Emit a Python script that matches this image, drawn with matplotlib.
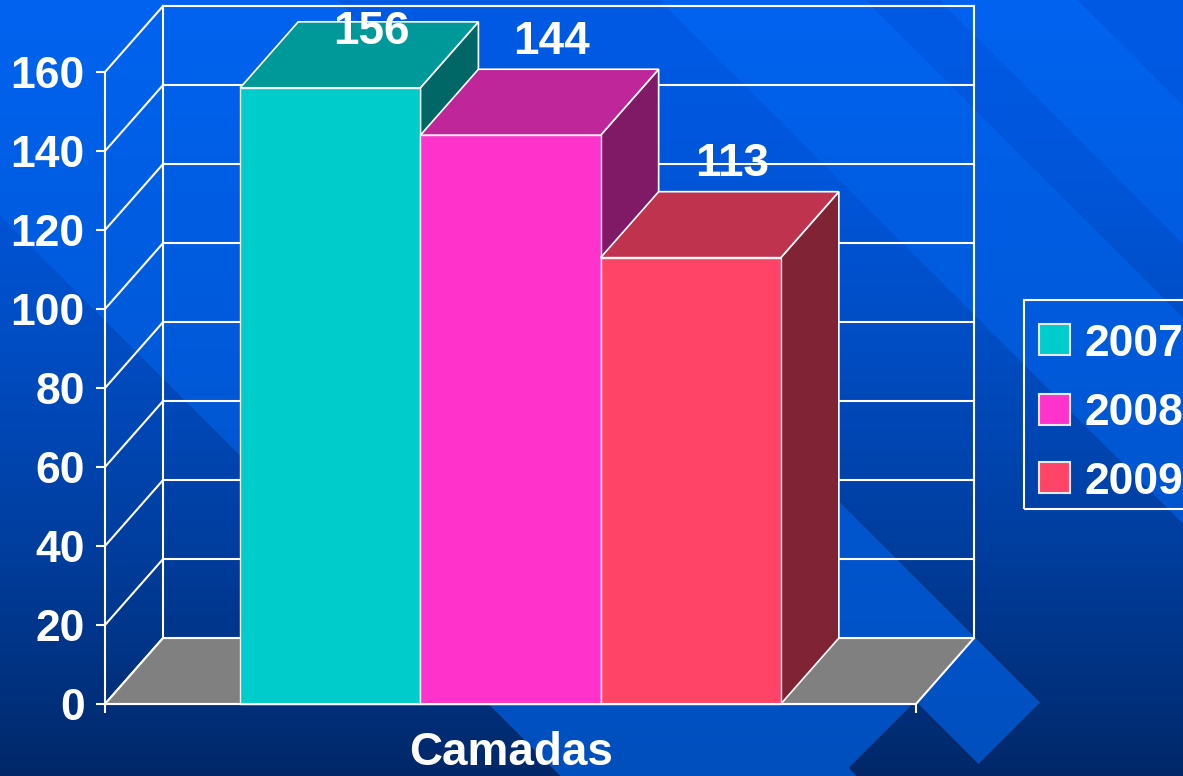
import numpy as np
import matplotlib
matplotlib.use("Agg")
import matplotlib.pyplot as plt
from matplotlib.patches import Polygon, Rectangle

plt.rcParams['font.family'] = ['Liberation Sans', 'DejaVu Sans']
plt.rcParams['font.weight'] = 'bold'

# ---- data ----
series = ['2007', '2008', '2009']
values = [156, 144, 113]
category = 'Camadas'
yticks = [0, 20, 40, 60, 80, 100, 120, 140, 160]
front_colors = ['#00CCCC', '#FF33CC', '#FF4468']
top_colors = ['#009999', '#BF2699', '#BF334E']
side_colors = ['#006666', '#801A66', '#802334']

W, H = 1183, 776
fig = plt.figure(figsize=(W / 100, H / 100), dpi=100)

# ---- background: vertical gradient with diagonal bands ----
yy, xx = np.mgrid[0:H, 0:W].astype(float)
u = xx + yy
v = xx - yy
dark = ((v < -215) | ((v >= 338) & (v < 660)) | ((v >= 866) & (v < 940)) | (v >= 1078)
        | ((v >= 81) & (v < 215) & (u > 1615)) | ((v >= 215) & (v < 338) & (u > 1741)))
t = yy / (H - 1)
td = t ** 1.6
light_rgb = np.stack([np.zeros_like(t), 99 - 20 * t, 240 - 50 * t], axis=-1)
dark_rgb = np.stack([np.zeros_like(t), 90 - 50 * td, 228 - 124 * td], axis=-1)
img = np.where(dark[..., None], dark_rgb, light_rgb) / 255.0
bg = fig.add_axes([0, 0, 1, 1], zorder=-10)
bg.imshow(img, aspect='auto', interpolation='nearest')
bg.axis('off')

# ---- main axes (front plane) ----
ax = fig.add_axes([105 / W, (H - 704) / H, 811 / W, 632 / H])
ax.patch.set_alpha(0)
XMAX = 4.5
ax.set_xlim(0, XMAX)
ax.set_ylim(0, 160)
DX, DV = 0.322, 16.7   # oblique depth offset
WHITE = 'white'
LW = 1.5

for s in ['top', 'right']:
    ax.spines[s].set_visible(False)
for s in ['left', 'bottom']:
    ax.spines[s].set_color(WHITE)
    ax.spines[s].set_linewidth(LW)
    ax.spines[s].set_zorder(6)

ax.set_yticks(yticks)
ax.set_yticklabels([str(y) for y in yticks])
ax.tick_params(axis='y', direction='out', length=6.5, width=LW, color=WHITE,
               labelsize=32, labelcolor=WHITE, pad=8)
ax.set_xticks([0, XMAX])
ax.set_xticklabels(['', ''])
ax.tick_params(axis='x', direction='out', length=6.5, width=LW, color=WHITE)

# back wall and side wall lines
for yv in yticks:
    ax.plot([DX, XMAX + DX], [yv + DV, yv + DV], color=WHITE, lw=LW, clip_on=False, zorder=1)
    ax.plot([0, DX], [yv, yv + DV], color=WHITE, lw=LW, clip_on=False, zorder=1)
ax.plot([DX, DX], [DV, 160 + DV], color=WHITE, lw=LW, clip_on=False, zorder=1)
ax.plot([XMAX + DX, XMAX + DX], [DV, 160 + DV], color=WHITE, lw=LW, clip_on=False, zorder=1)

# floor
floor = Polygon([(0, 0), (XMAX, 0), (XMAX + DX, DV), (DX, DV)], closed=True,
                facecolor='#808080', edgecolor=WHITE, lw=LW, clip_on=False, zorder=2)
ax.add_patch(floor)

# bars
for i, (val, fc, tc, sc) in enumerate(zip(values, front_colors, top_colors, side_colors)):
    x0 = 0.75 + i
    x1 = x0 + 1.0
    z = 3 + i
    side = Polygon([(x1, 0), (x1, val), (x1 + DX, val + DV), (x1 + DX, DV)], closed=True,
                   facecolor=sc, edgecolor=WHITE, lw=1.2, clip_on=False, zorder=z)
    top = Polygon([(x0, val), (x1, val), (x1 + DX, val + DV), (x0 + DX, val + DV)], closed=True,
                  facecolor=tc, edgecolor=WHITE, lw=1.2, clip_on=False, zorder=z)
    front = Rectangle((x0, 0), 1.0, val, facecolor=fc, edgecolor='#F0F0F0', lw=1.0,
                      clip_on=False, zorder=z + 0.1)
    ax.add_patch(side)
    ax.add_patch(top)
    ax.add_patch(front)
    ly = min(val + DV + 6.9, 170)
    ax.text(x0 + 0.73, ly, str(val), ha='center', va='center', fontsize=33,
            color=WHITE, fontweight='bold', clip_on=False, zorder=10)

# category label
fig.text(511 / W, 1 - 765 / H, category, ha='center', va='baseline', fontsize=33,
         color=WHITE, fontweight='bold')

# legend (drawn as figure artists)
fig.add_artist(Rectangle((1024 / W, 1 - 509 / H), 200 / W, 209 / H, transform=fig.transFigure,
                         fill=False, edgecolor=WHITE, lw=LW))
for i, (name, fc) in enumerate(zip(series, front_colors)):
    cy = 340 + 69 * i
    fig.add_artist(Rectangle((1039 / W, 1 - (cy + 15.5) / H), 31 / W, 31 / H,
                             transform=fig.transFigure, facecolor=fc,
                             edgecolor='#E8E8E8', lw=1.5))
    fig.text(1085 / W, 1 - (cy + 16) / H, name, ha='left', va='baseline', fontsize=32,
             color=WHITE, fontweight='bold')

fig.savefig('out.png', dpi=100)
